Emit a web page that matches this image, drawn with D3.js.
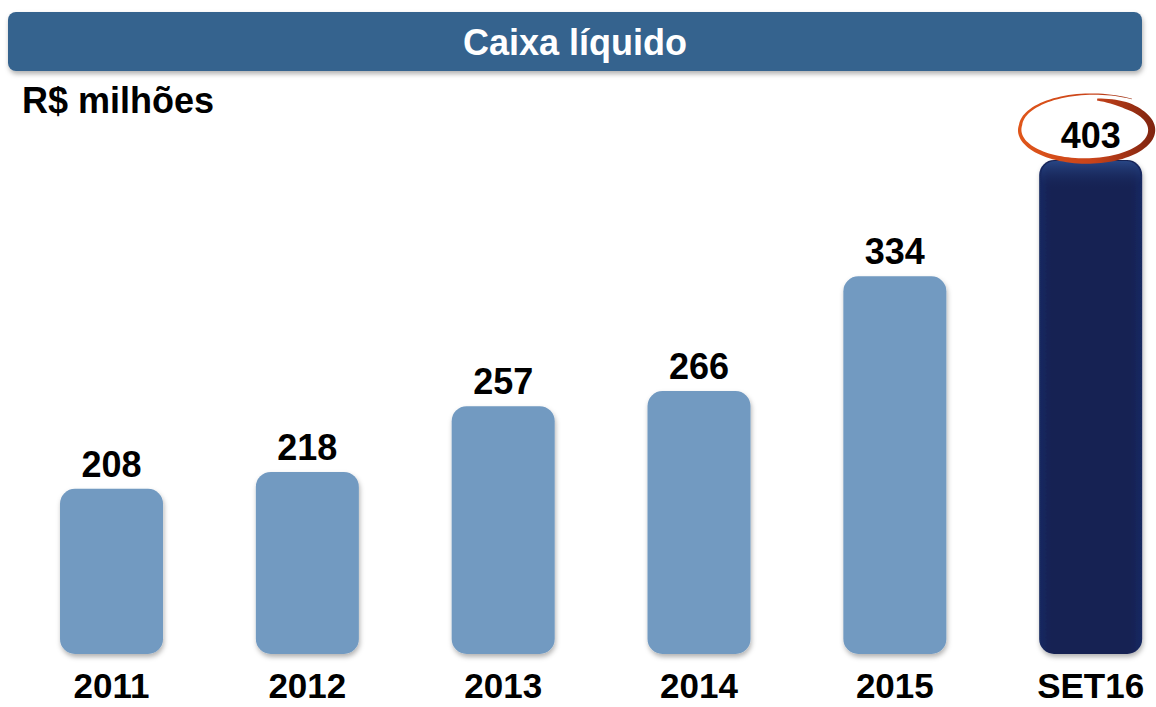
<!DOCTYPE html>
<html><head><meta charset="utf-8">
<script src="https://cdn.jsdelivr.net/npm/d3@7"></script>
<style>html,body{margin:0;padding:0;background:#fff;}svg{display:block;font-family:"Liberation Sans",Arial,sans-serif;}</style>
</head><body>
<svg id="c" width="1156" height="707"></svg>
<script>
const categories = ["2011","2012","2013","2014","2015","SET16"];
const values = [208, 218, 257, 266, 334, 403];
const highlight = ["SET16"];
const title = "Caixa líquido";
const unitLabel = "R$ milhões";

const svg = d3.select("#c");
const baseY = 654;

const defs = svg.append("defs");
const sh = defs.append("filter").attr("id","sh").attr("x","-10%").attr("y","-10%").attr("width","130%").attr("height","130%");
sh.append("feDropShadow").attr("dx",1).attr("dy",3).attr("stdDeviation",2.5).attr("flood-color","#000").attr("flood-opacity",0.3);
const gDark = defs.append("linearGradient").attr("id","gd").attr("x1",0).attr("x2",1).attr("y1",0).attr("y2",0);
gDark.append("stop").attr("offset","0%").attr("stop-color","#1a2a62");
gDark.append("stop").attr("offset","12%").attr("stop-color","#142052");
gDark.append("stop").attr("offset","88%").attr("stop-color","#142052");
gDark.append("stop").attr("offset","100%").attr("stop-color","#1a2a62");
const gTop = defs.append("linearGradient").attr("id","gt").attr("x1",0).attr("x2",0).attr("y1",0).attr("y2",1);
gTop.append("stop").attr("offset","0%").attr("stop-color","#2a4a8a").attr("stop-opacity",0.9);
gTop.append("stop").attr("offset","100%").attr("stop-color","#142052").attr("stop-opacity",0);
const gRing = defs.append("linearGradient").attr("id","gr").attr("x1",0).attr("x2",1).attr("y1",0).attr("y2",0);
gRing.append("stop").attr("offset","0%").attr("stop-color","#e0561a");
gRing.append("stop").attr("offset","55%").attr("stop-color","#c8431a");
gRing.append("stop").attr("offset","100%").attr("stop-color","#7e2410");

// Title banner
svg.append("rect").attr("x",8).attr("y",12).attr("width",1134).attr("height",59).attr("rx",8)
  .attr("fill","#36638e").attr("filter","url(#sh)");
svg.append("text").attr("x",575).attr("y",55).attr("text-anchor","middle")
  .attr("fill","#fff").attr("font-weight","bold").attr("font-size",36).text(title);
svg.append("text").attr("x",22).attr("y",113).attr("fill","#000")
  .attr("font-weight","bold").attr("font-size",36).text(unitLabel);

const x = d3.scaleBand().domain(categories).range([13.6, 1188.6]).paddingInner(0.474).paddingOuter(0.237);
const y = d3.scaleLinear().domain([110, 403]).range([baseY, 160]);

const g = svg.append("g");
const bars = g.selectAll("g.bar").data(categories.map((c,i)=>({c, v: values[i]}))).join("g").attr("class","bar");
bars.append("rect")
  .attr("x", d=>x(d.c)).attr("width", x.bandwidth())
  .attr("y", d=>y(d.v)).attr("height", d=>baseY - y(d.v))
  .attr("rx", 15)
  .attr("fill", d=> highlight.includes(d.c) ? "url(#gd)" : "#729ac1")
  .attr("filter","url(#sh)");
bars.filter(d=>highlight.includes(d.c)).append("rect")
  .attr("x", d=>x(d.c)+2).attr("width", x.bandwidth()-4)
  .attr("y", d=>y(d.v)+1).attr("height", 30).attr("rx", 14)
  .attr("fill","url(#gt)");

bars.append("text")
  .attr("x", d=>x(d.c)+x.bandwidth()/2).attr("y", d=>y(d.v)-12)
  .attr("text-anchor","middle").attr("font-weight","bold").attr("font-size",36).attr("fill","#000")
  .text(d=>d.v);

g.selectAll("text.cat").data(categories).join("text").attr("class","cat")
  .attr("x", d=>x(d)+x.bandwidth()/2).attr("y", 698)
  .attr("text-anchor","middle").attr("font-weight","bold").attr("font-size",35).attr("fill","#000")
  .text(d=>d);

// highlight ring: hand-drawn spiral with growing stroke width
categories.forEach((c,i)=>{
  if(!highlight.includes(c)) return;
  const cx = x(c)+x.bandwidth()/2 - 5, cy = y(values[i]) - 12 - 18;
  const rx = 66, ry = 31;
  const deg = Math.PI/180;
  const a0 = -55*deg, a1 = -440*deg;
  const N = 120;
  const outer = [], inner = [];
  for(let k=0;k<=N;k++){
    const t = k/N;
    const a = a0 + (a1-a0)*t;
    const s = t < 0.3 ? 1.22 - 0.22*(t/0.3) : 1.0;
    const w = 0.6 + 6.5*Math.min(1, t/0.75) - (t>0.93 ? 5*(t-0.93)/0.07 : 0);
    const ca = Math.cos(a), sa = Math.sin(a);
    outer.push([cx + (rx*s + w/2)*ca, cy + (ry*s + w/2)*sa]);
    inner.push([cx + (rx*s - w/2)*ca, cy + (ry*s - w/2)*sa]);
  }
  const poly = outer.concat(inner.reverse());
  svg.append("path").attr("d", d3.line().curve(d3.curveLinearClosed)(poly))
    .attr("fill","url(#gr)").attr("stroke","none");
});
</script>
</body></html>
